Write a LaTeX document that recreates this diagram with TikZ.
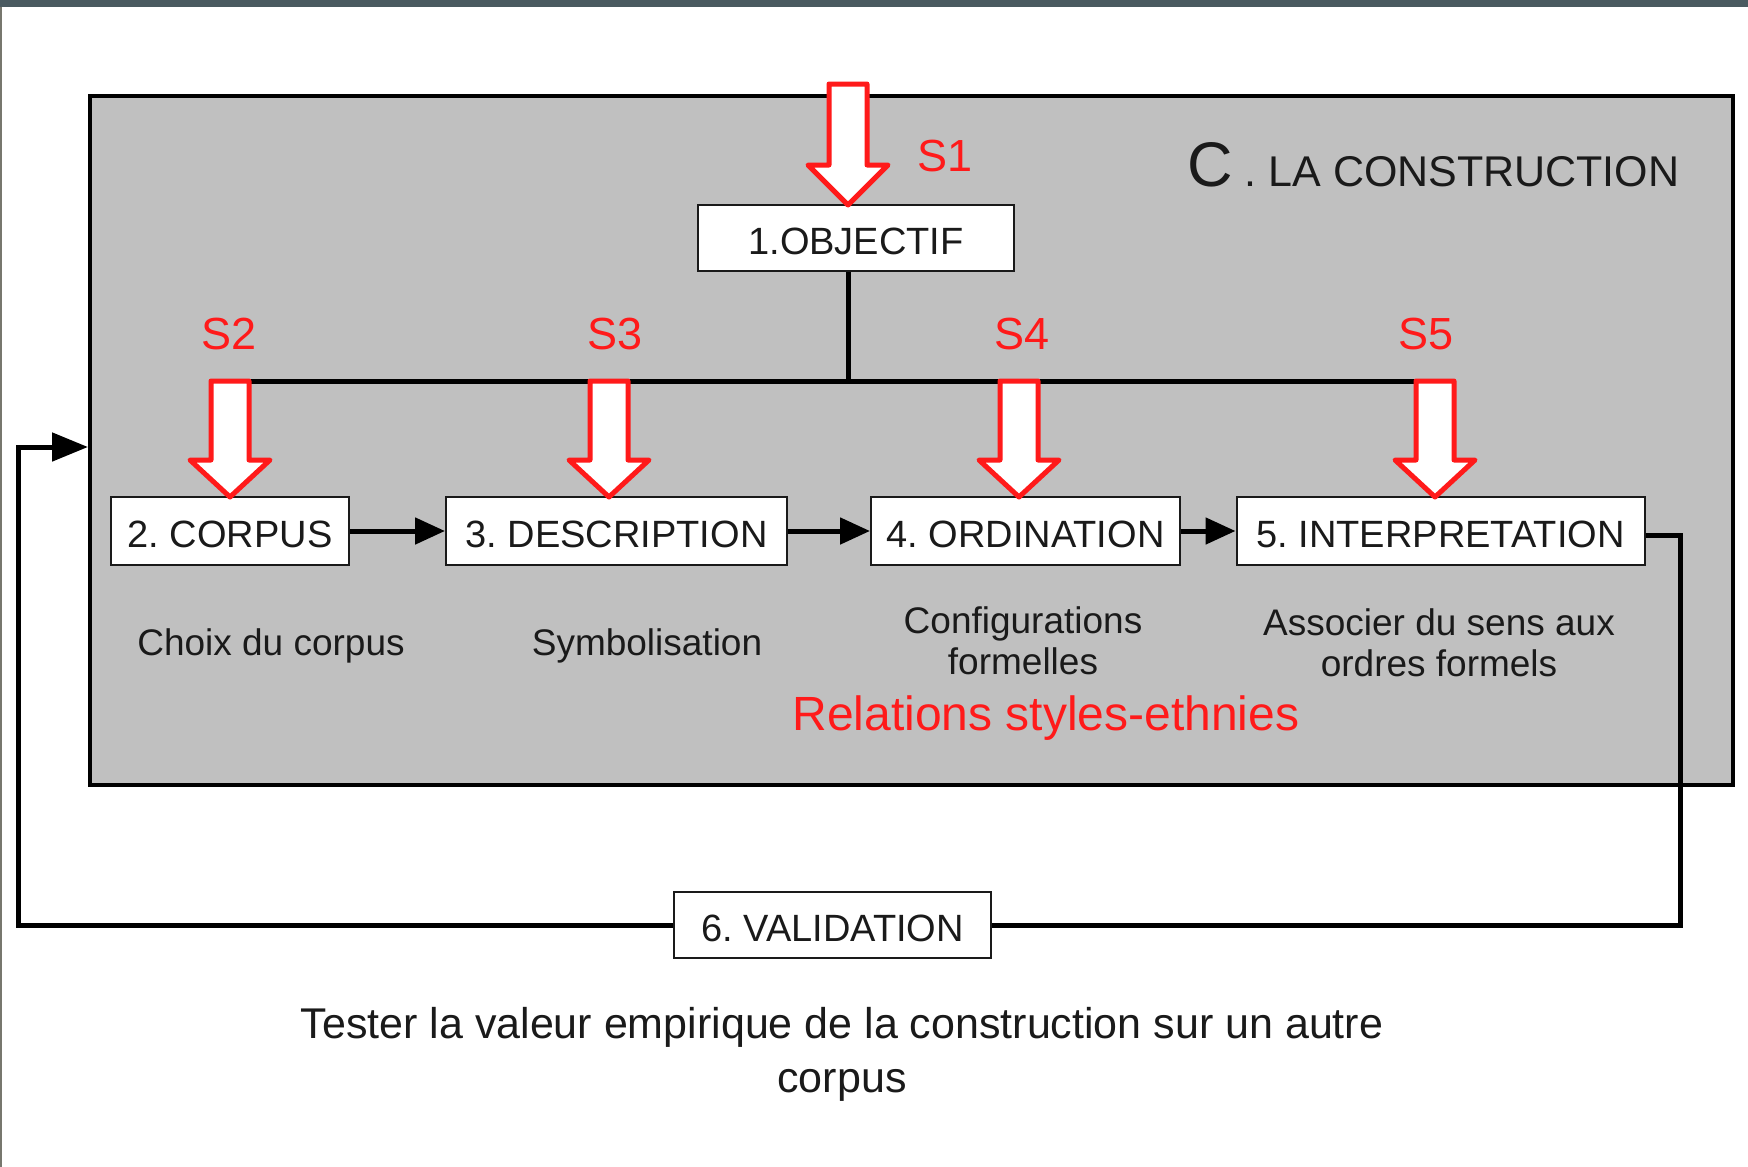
\documentclass[tikz,border=0pt]{standalone}
\usepackage{fontspec}
\setmainfont{Liberation Sans}
\usetikzlibrary{arrows.meta}
\frenchspacing
\definecolor{panel}{HTML}{C0C0C0}
\definecolor{topbar}{HTML}{4A5A60}
\definecolor{leftstrip}{HTML}{77776E}
\definecolor{sred}{HTML}{FF1A1A}
\definecolor{ink}{HTML}{1A1A1A}
\newcommand\blockarrow[4]{%
  \filldraw[redarrow] ({#1-19},#2) -- ({#1+19},#2) -- ({#1+19},#3) -- ({#1+40},#3)
    -- (#1,#4) -- ({#1-40},#3) -- ({#1-19},#3) -- cycle;}
\begin{document}
\begin{tikzpicture}[x=1pt,y=-1pt,
  stage/.style={draw=ink, line width=2pt, fill=white, inner sep=0pt,
    text height=32pt, text depth=0pt,
    font=\fontsize{38}{40}\selectfont, text=ink},
  desc/.style={font=\fontsize{37}{41}\selectfont, text=ink, align=center, inner sep=0pt},
  slabel/.style={font=\fontsize{45}{45}\selectfont, text=sred, inner sep=0pt},
  link/.style={line width=5pt, draw=black},
  flow/.style={link, -{Triangle[length=30pt, width=26pt]}},
  redarrow/.style={draw=sred, fill=white, line width=5pt, line join=round}]
\useasboundingbox (0,0) rectangle (1748,1167);
\fill[white] (0,0) rectangle (1748,1167);
\fill[topbar] (0,0) rectangle (1748,7);
\fill[leftstrip] (0,7) rectangle (2,1167);

% panel
\node[draw=black, line width=4pt, fill=panel, minimum width=1643pt, minimum height=689pt,
  inner sep=0pt, anchor=north west] (frame) at (88,94) {};

% coordinates
\coordinate (bus) at (848,381);
\coordinate (busL) at (230,381);
\coordinate (busR) at (1435,381);
\coordinate (fbR) at (1680,925);
\coordinate (fbL) at (18,447);
\coordinate (entry) at (88,447);

% boxes
\node[stage, minimum width=316pt, minimum height=66pt] (obj) at (856,238) {1.OBJECTIF};
\node[stage, minimum width=238pt, minimum height=68pt] (corpus) at (230,531) {2. CORPUS};
\node[stage, minimum width=341pt, minimum height=68pt] (descr) at (616.5,531) {3. DESCRIPTION};
\node[stage, minimum width=309pt, minimum height=68pt] (ordin) at (1025.5,531) {4. ORDINATION};
\node[stage, minimum width=408pt, minimum height=68pt] (interp) at (1440.5,531) {5. INTERPRETATION};
\node[stage, minimum width=317pt, minimum height=66pt] (valid) at (832.5,925) {6. VALIDATION};

% connectors
\draw[link] (obj.south -| bus) -- (bus);
\draw[link] (busL) -- (busR);
\draw[flow] (corpus.east) -- (descr.west);
\draw[flow] (descr.east) -- (ordin.west);
\draw[flow] (ordin.east) -- (interp.west);
\draw[link] ([yshift=-4pt]interp.east) -| (fbR) -- (valid.east);
\draw[link, -{Triangle[length=36pt, width=28pt]}] (valid.west) -| (fbL) -- (entry);

% red block arrows
\blockarrow{848}{84}{165}{205}
\blockarrow{230}{381}{460}{497}
\blockarrow{609}{381}{460}{497}
\blockarrow{1019}{381}{460}{497}
\blockarrow{1435}{381}{460}{497}

% labels
\node[slabel] (s1) at (945,156) {S1};
\node[slabel] (s2) at (229,334) {S2};
\node[slabel] (s3) at (615,334) {S3};
\node[slabel] (s4) at (1022,334) {S4};
\node[slabel] (s5) at (1426,334) {S5};

\node[anchor=base west, inner sep=0pt, text=ink] (title) at (1187,186)
  {\fontsize{63}{63}\selectfont C\fontsize{43}{43}\selectfont\ .\ LA CONSTRUCTION};

\node[desc] (t2) at (271,646) {Choix du corpus};
\node[desc] (t3) at (647,646) {Symbolisation};
\node[desc] (t4) at (1023,641) {Configurations\\formelles};
\node[desc] (t5) at (1439,643) {Associer du sens aux\\ordres formels};
\node[text=sred, font=\fontsize{48}{48}\selectfont, inner sep=0pt] (rel) at (1046,718) {Relations styles-ethnies};
\node[desc, font=\fontsize{43}{54}\selectfont] (test) at (842,1054)
  {Tester la valeur empirique de la construction sur un autre\\corpus};
\end{tikzpicture}
\end{document}
